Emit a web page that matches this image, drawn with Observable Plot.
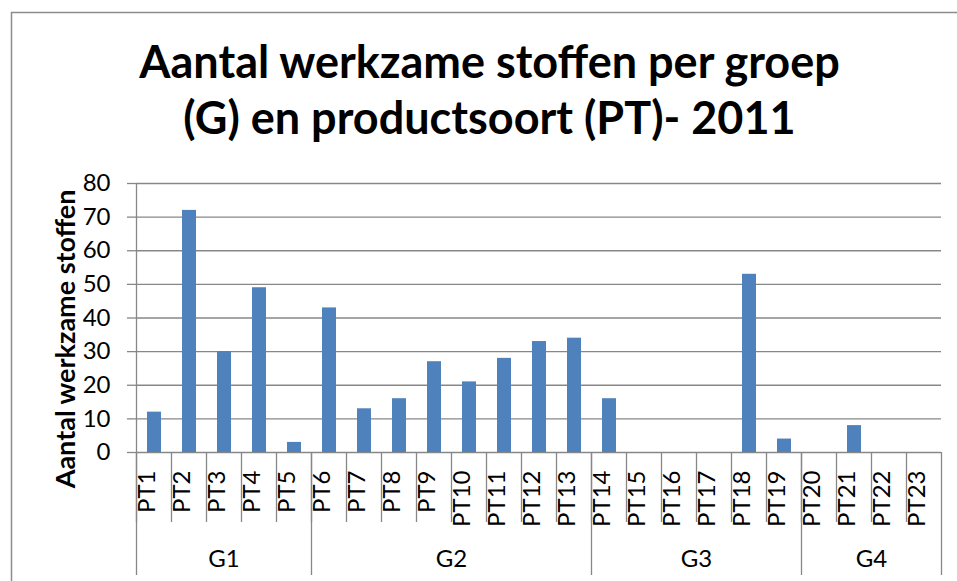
<!DOCTYPE html>
<html><head><meta charset="utf-8">
<script src="https://cdn.jsdelivr.net/npm/d3@7"></script>
<script src="https://cdn.jsdelivr.net/npm/@observablehq/plot@0.6"></script>
<style>html,body{margin:0;padding:0;background:#fff} svg{display:block}</style>
</head><body><div id="chart"></div>
<script>
const categories = ["PT1","PT2","PT3","PT4","PT5","PT6","PT7","PT8","PT9","PT10","PT11","PT12","PT13","PT14","PT15","PT16","PT17","PT18","PT19","PT20","PT21","PT22","PT23"];
const values = [12,72,30,49,3,43,13,16,27,21,28,33,34,16,0,0,0,53,4,0,8,0,0];
const groups = ["G1","G2","G3","G4"];
const groupSizes = [5,8,6,4];
const yTicks = [0,10,20,30,40,50,60,70,80];
const titleLines = ["Aantal werkzame stoffen per groep","(G) en productsoort (PT)- 2011"];
const yLabel = "Aantal werkzame stoffen";

const data = categories.map((c,i)=>({category:c, value: values[i]}));
const font = "Lato, 'Open Sans', sans-serif";
const grey = "#878787";

const plot = Plot.plot({
  width: 957, height: 581,
  marginTop: 183, marginBottom: 129, marginLeft: 136, marginRight: 16,
  style: {fontFamily: font, background: "#fff", color: "#000"},
  x: {domain: categories, paddingInner: 0.6, paddingOuter: 0.3, axis: null},
  y: {domain: [0,80], axis: null},
  marks: [
    Plot.gridY(yTicks, {stroke: grey, strokeOpacity: 1, strokeWidth: 1.3}),
    Plot.axisY(yTicks, {tickSize: 9, tickPadding: 17, fontSize: 24, stroke: grey, strokeOpacity: 1, strokeWidth: 1.3, label: null, tickFormat: d=>String(d)}),
    Plot.barY(data, {x:"category", y:"value", fill:"#4F81BD"}),
    Plot.text(categories, {x: d=>d, frameAnchor:"bottom", rotate:-90, textAnchor:"end", dy:18, fontSize:24, fill:"#000"}),
    Plot.text([yLabel], {frameAnchor:"left", textAnchor:"middle", rotate:-90, dx:-70, dy:21, fontWeight:"bold", fontSize:27, fill:"#000"}),
    Plot.text([titleLines[0]], {frameAnchor:"top", textAnchor:"middle", dx:-49.5, dy:-106, lineAnchor:"bottom", fontSize:45, fontWeight:"bold", fill:"#000"}),
    Plot.text([titleLines[1]], {frameAnchor:"top", textAnchor:"middle", dx:-49.5, dy:-50, lineAnchor:"bottom", fontSize:45, fontWeight:"bold", fill:"#000"})
  ]
});

const xs = plot.scale("x"), ys = plot.scale("y");
const step = xs.step, bw = xs.bandwidth;
const center = c => xs.apply(c) + bw/2;
const y0 = ys.apply(0), yTop = ys.apply(80);
const svg = d3.select(plot);

// outer border
svg.insert("rect", ":first-child")
  .attr("x", 11.5).attr("y", 12.5).attr("width", 1200).attr("height", 1200)
  .attr("fill", "none").attr("stroke", "#8c8c8c").attr("stroke-width", 1.5);

const g = svg.append("g").attr("stroke", grey).attr("stroke-width", 1.3);
// category separators
categories.forEach(c => {
  const xl = center(c) - step/2;
  g.append("line").attr("x1", xl).attr("x2", xl).attr("y1", y0).attr("y2", y0 + 70);
});
const lastX = center(categories[categories.length-1]) + step/2;
// group separators & labels
let idx = 0;
const gl = svg.append("g").attr("font-family", font).attr("font-size", 24).attr("text-anchor", "middle").attr("fill", "#000");
groups.forEach((gname, i) => {
  const first = categories[idx], last = categories[idx + groupSizes[i] - 1];
  const xl = center(first) - step/2, xr = center(last) + step/2;
  g.append("line").attr("x1", xl).attr("x2", xl).attr("y1", i === 0 ? yTop : y0).attr("y2", y0 + 123);
  gl.append("text").attr("x", (xl + xr)/2).attr("y", y0 + 115).text(gname);
  idx += groupSizes[i];
});
g.append("line").attr("x1", lastX).attr("x2", lastX).attr("y1", y0).attr("y2", y0 + 123);

document.getElementById("chart").appendChild(plot);
</script>
</body></html>
